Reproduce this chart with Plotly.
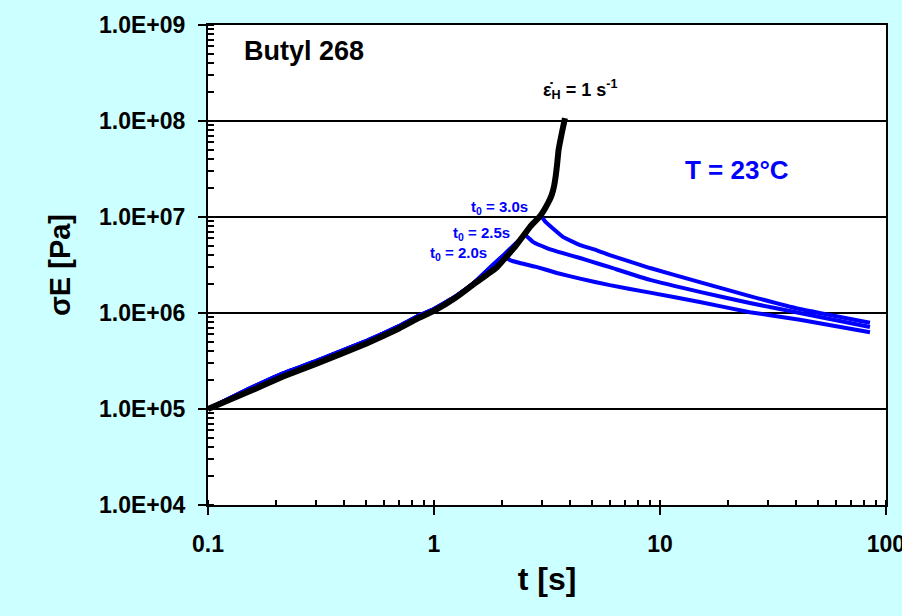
import plotly.graph_objects as go

# ---------------- data ----------------
# stress growth at strain rate 1 s^-1 (black)
black_t = [0.1, 0.15, 0.215, 0.3, 0.506, 0.7, 0.841, 1.0, 1.25, 1.5, 1.9, 2.3, 2.66,
           2.95, 3.2, 3.32, 3.40, 3.46, 3.51, 3.56, 3.68, 3.80]
black_s = [1.0e5, 1.5e5, 2.18e5, 2.95e5, 4.85e5, 6.9e5, 8.7e5, 1.05e6, 1.45e6, 2.0e6,
           3.0e6, 5.0e6, 7.9e6, 1.02e7, 1.4e7, 1.7e7, 2.1e7, 2.7e7, 3.6e7, 5.0e7,
           7.5e7, 1.07e8]

# common growth part of the blue (interrupted) tests
blue_growth_t = [0.1, 0.15, 0.215, 0.3, 0.506, 0.7, 0.841, 1.0, 1.25, 1.5, 2.02, 2.53, 2.95]
blue_growth_s = [1.0e5, 1.6e5, 2.35e5, 3.15e5, 5.15e5, 7.3e5, 9.2e5, 1.1e6, 1.5e6, 2.05e6,
                 3.93e6, 6.5e6, 1.05e7]

# relaxation after stop at t0
t0_list = [2.02, 2.53, 2.95]
t0_labels = ["2.0s", "2.5s", "3.0s"]

relax20_t = [2.17, 2.40, 2.86, 3.50, 4.43, 6.0, 9.04, 15.0, 25.0, 41.6, 85.0]
relax20_s = [3.56e6, 3.32e6, 3.01e6, 2.61e6, 2.28e6, 1.95e6, 1.63e6, 1.30e6,
             1.02e6, 8.5e5, 6.3e5]

relax25_t = [2.74, 3.16, 3.72, 4.43, 5.26, 6.0, 9.04, 15.0, 25.0, 41.6, 85.0]
relax25_s = [5.5e6, 4.75e6, 4.2e6, 3.74e6, 3.3e6, 3.0e6, 2.21e6, 1.66e6,
             1.27e6, 1.0e6, 7.15e5]

relax30_t = [3.10, 3.36, 3.72, 4.43, 5.26, 6.0, 9.04, 15.0, 25.0, 41.6, 85.0]
relax30_s = [9.0e6, 7.6e6, 6.2e6, 5.1e6, 4.5e6, 4.0e6, 2.94e6, 2.1e6, 1.5e6,
             1.1e6, 7.9e5]

relax_t = [relax20_t, relax25_t, relax30_t]
relax_s = [relax20_s, relax25_s, relax30_s]

y_tickvals = [1e4, 1e5, 1e6, 1e7, 1e8, 1e9]
y_ticktext = ["1.0E+04", "1.0E+05", "1.0E+06", "1.0E+07", "1.0E+08", "1.0E+09"]
x_tickvals = [0.1, 1, 10, 100]
x_ticktext = ["0.1", "1", "10", "100"]

# ---------------- figure ----------------
FONT = "Liberation Sans, Arial, sans-serif"
BLUE = "#0000FF"
XR = [-1, 2.0004]
YR = [4, 9]
fig = go.Figure()

for t0, rt, rs in zip(t0_list, relax_t, relax_s):
    gt = [t for t in blue_growth_t if t <= t0]
    gs = [s for t, s in zip(blue_growth_t, blue_growth_s) if t <= t0]
    fig.add_trace(go.Scatter(
        x=gt + rt, y=gs + rs, mode="lines",
        line=dict(color=BLUE, width=4, shape="spline", smoothing=0.3),
        showlegend=False, hoverinfo="skip"))

fig.add_trace(go.Scatter(
    x=black_t, y=black_s, mode="lines",
    line=dict(color="black", width=6, shape="spline", smoothing=0.3),
    showlegend=False, hoverinfo="skip"))

def px_x(p):
    return (p - 208) / 678.0

def px_y(p):
    return (505 - p) / 480.0

annotations = [
    dict(x=px_x(242), y=px_y(51), xref="paper", yref="paper", xanchor="left",
         yanchor="middle", showarrow=False, text="Butyl 268",
         font=dict(family=FONT, size=27, color="black", weight="bold")),
    dict(x=px_x(737), y=px_y(170), xref="paper", yref="paper", xanchor="center",
         yanchor="middle", showarrow=False, text="T = 23°C",
         font=dict(family=FONT, size=26, color=BLUE, weight="bold")),
    dict(x=px_x(580), y=px_y(90), xref="paper", yref="paper", xanchor="center",
         yanchor="middle", showarrow=False,
         text="\u03b5\u0307<sub>H</sub> = 1 s<sup>-1</sup>",
         font=dict(family=FONT, size=18, color="black", weight="bold")),
]
label_pos = [(489, 253), (512, 233), (530, 207)]
for lab, (lx, ly) in zip(t0_labels, label_pos):
    annotations.append(dict(
        x=px_x(lx), y=px_y(ly), xref="paper", yref="paper", xanchor="right",
        yanchor="middle", showarrow=False, text="t<sub>0</sub> = " + lab,
        font=dict(family=FONT, size=15, color=BLUE, weight="bold")))

fig.update_layout(
    width=902, height=616,
    margin=dict(l=208, r=16, t=25, b=111, autoexpand=False),
    paper_bgcolor="#CCFFFF", plot_bgcolor="white",
    showlegend=False,
    annotations=annotations,
    xaxis=dict(
        type="log", range=XR, automargin=False,
        tickmode="array", tickvals=x_tickvals, ticktext=x_ticktext,
        ticks="outside", ticklen=8, tickwidth=2, tickcolor="black",
        ticklabelstandoff=9, ticklabeloverflow="allow",
        tickfont=dict(family=FONT, size=23, color="black", weight="bold"),
        showline=True, linewidth=2, linecolor="black", mirror=True,
        showgrid=False, zeroline=False,
        minor=dict(ticks="inside", ticklen=5, tickwidth=1.5, tickcolor="black",
                   dtick="D1", showgrid=False),
        title=dict(text="t [s]", standoff=12,
                   font=dict(family=FONT, size=32, color="black", weight="bold")),
    ),
    yaxis=dict(
        type="log", range=YR, automargin=False,
        tickmode="array", tickvals=y_tickvals, ticktext=y_ticktext,
        ticks="outside", ticklen=8, tickwidth=2, tickcolor="black",
        ticklabelstandoff=8,
        tickfont=dict(family=FONT, size=23, color="black", weight="bold"),
        showline=True, linewidth=2, linecolor="black", mirror=True,
        showgrid=True, gridcolor="black", gridwidth=2, zeroline=False,
        minor=dict(ticks="inside", ticklen=6, tickwidth=1.5, tickcolor="black",
                   dtick="D1", showgrid=False),
        title=dict(text="\u03c3E [Pa]", standoff=20,
                   font=dict(family=FONT, size=29, color="black", weight="bold")),
    ),
    xaxis2=dict(type="log", range=XR, overlaying="x", anchor="y", automargin=False,
                tickmode="array", tickvals=x_tickvals, ticks="inside", ticklen=8,
                tickwidth=2, tickcolor="black", showticklabels=False,
                showgrid=False, showline=False, zeroline=False),
    yaxis2=dict(type="log", range=YR, overlaying="y", anchor="x", automargin=False,
                tickmode="array", tickvals=y_tickvals, ticks="inside", ticklen=8,
                tickwidth=2, tickcolor="black", showticklabels=False,
                showgrid=False, showline=False, zeroline=False),
)

fig.write_html("out.html")
